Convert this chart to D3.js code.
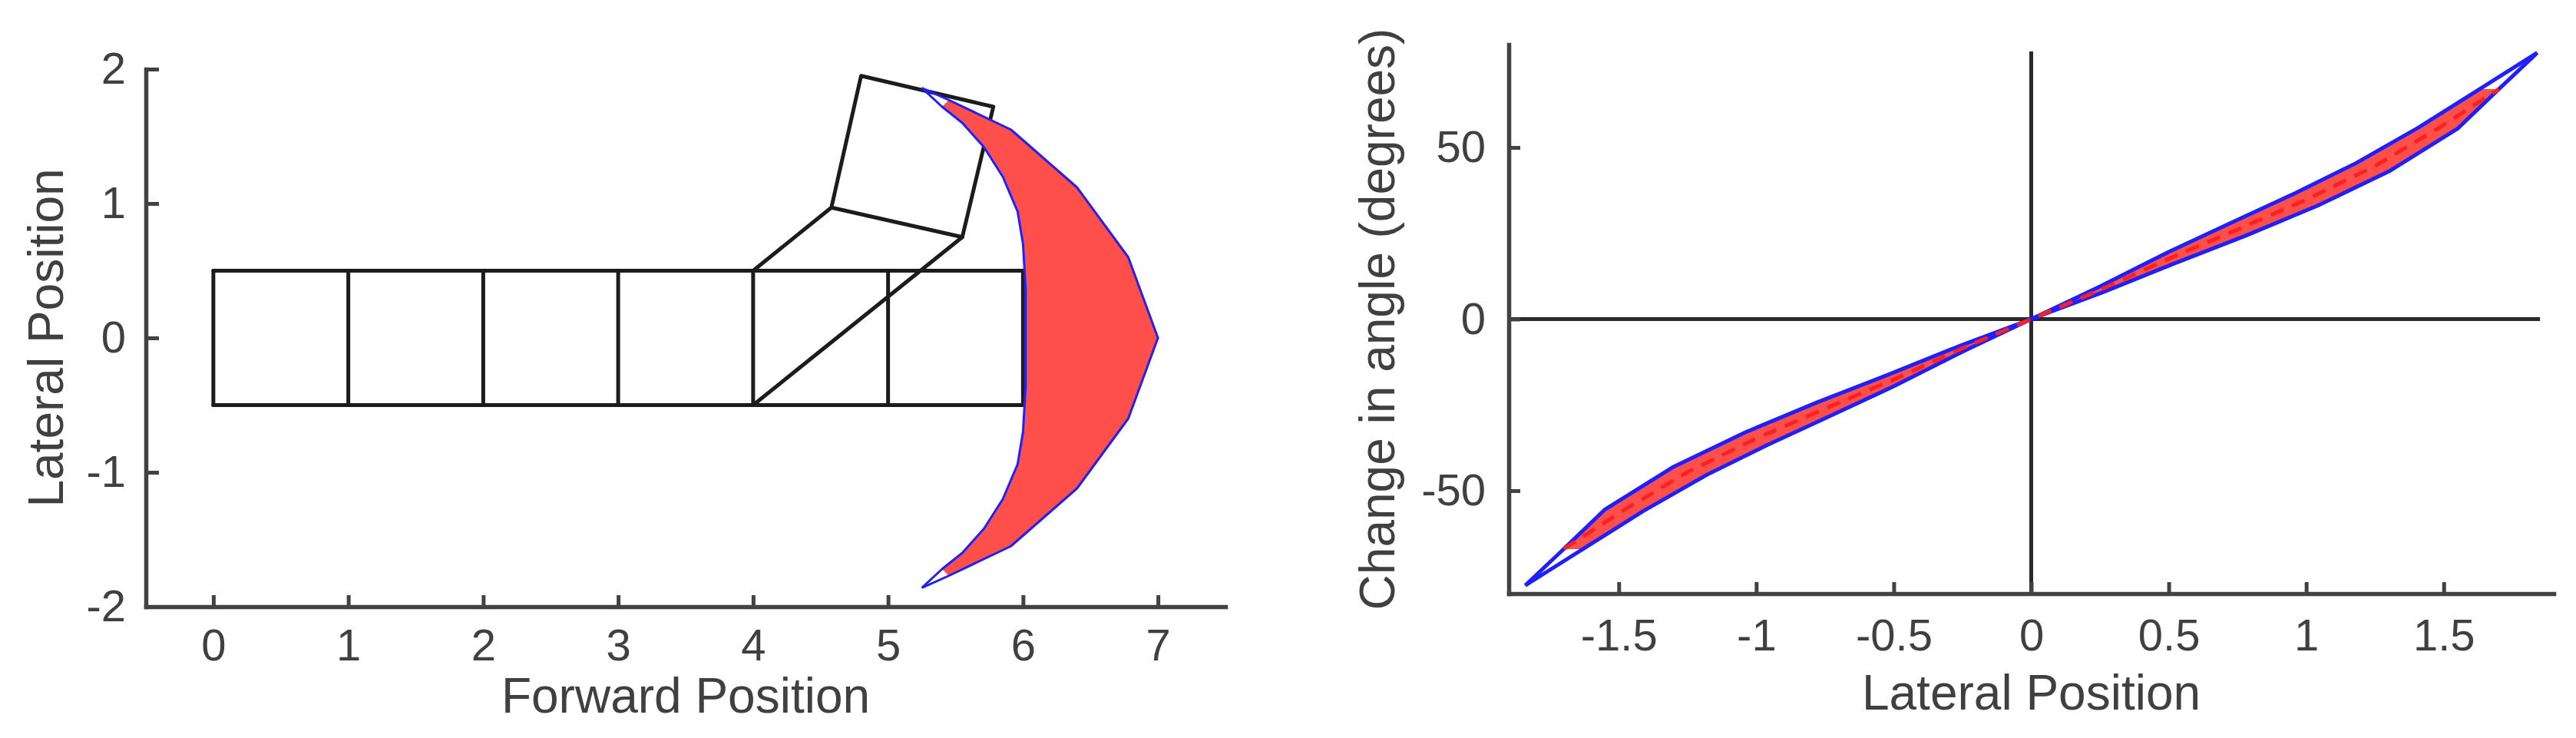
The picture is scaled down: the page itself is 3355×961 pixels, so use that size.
<!DOCTYPE html>
<html>
<head>
<meta charset="utf-8">
<script src="https://cdn.jsdelivr.net/npm/d3@7"></script>
<style>
  html, body { margin: 0; padding: 0; background: #fff; }
</style>
</head>
<body>
<script>
// ---- left panel data (forward / lateral position) ----
const segmentX = [0, 1, 2, 3, 4, 5, 6];
const bodyEdgeY = [-0.5, 0.5];
const armLines = [
  [[4, 0.5], [4.58, 0.97], [4.80, 1.95], [5.78, 1.72], [5.55, 0.75], [4.58, 0.97]],
  [[5.55, 0.75], [4, -0.5]]
];
const sweepOuter = [[5.25, 1.86], [5.45, 1.77], [5.91, 1.55], [6.40, 1.12], [6.78, 0.60], [7.0, 0],
  [6.78, -0.60], [6.40, -1.12], [5.91, -1.55], [5.45, -1.77], [5.25, -1.86]];
const sweepInner = [[5.25, 1.86], [5.40, 1.72], [5.55, 1.60], [5.71, 1.42], [5.85, 1.20], [5.96, 0.94],
  [6.0, 0.70], [6.02, 0.35], [6.02, 0], [6.02, -0.35], [6.0, -0.70], [5.96, -0.94], [5.85, -1.20],
  [5.71, -1.42], [5.55, -1.60], [5.40, -1.72], [5.25, -1.86]];
const forwardTicks = [0, 1, 2, 3, 4, 5, 6, 7];
const lateralTicks = [-2, -1, 0, 1, 2];

// ---- right panel data (change in angle vs lateral position) ----
const angleUpper = [[-1.84, -77.6], [-1.70, -67.0], [-1.552, -55.6], [-1.30, -43.0], [-1.04, -33.0],
  [-0.78, -24.3], [-0.52, -16.2], [-0.26, -7.8], [0, 0], [0.25, 9.5], [0.5, 19.6], [0.75, 28.9],
  [0.96, 36.7], [1.18, 45.4], [1.408, 55.8], [1.63, 67.0], [1.84, 77.6]];
const angleLower = [[-1.84, -77.6], [-1.63, -67.0], [-1.408, -55.8], [-1.18, -45.4], [-0.96, -36.7],
  [-0.75, -28.9], [-0.5, -19.6], [-0.25, -9.5], [0, 0], [0.26, 7.8], [0.52, 16.2], [0.78, 24.3],
  [1.04, 33.0], [1.30, 43.0], [1.552, 55.6], [1.70, 67.0], [1.84, 77.6]];
const angleMean = [[-1.70, -67.0], [-1.48, -55.6], [-1.25, -44.6], [-1.0, -34.8], [-0.75, -26.1],
  [-0.5, -17.6], [-0.25, -8.5], [0, 0], [0.25, 8.5], [0.5, 17.6], [0.75, 26.1], [1.0, 34.8],
  [1.25, 44.6], [1.48, 55.6], [1.70, 67.0]];
const zeroLineX = [-1.9, 1.85];
const zeroLineY = [-80, 78];
const lateralTicksRight = [-1.5, -1, -0.5, 0, 0.5, 1, 1.5];
const angleTicks = [-50, 0, 50];

const W = 3355, H = 961;
const axisColor = "#424242", textColor = "#404040", inkColor = "#1c1c1c";
const fontFam = '"Liberation Sans", Arial, Helvetica, sans-serif';
const fillRed = "#ff4f4a", edgeBlue = "#1f1fff";

const svg = d3.select("body").append("svg")
  .attr("width", W)
  .attr("height", H)
  .style("background", "#fff");

function styleAxis(g) {
  g.attr("font-family", fontFam).attr("font-size", 58).attr("color", axisColor);
  g.select(".domain").attr("stroke-width", 5.5).attr("stroke-linecap", "square");
  g.selectAll(".tick line").attr("stroke-width", 5);
  g.selectAll(".tick text").attr("fill", textColor);
}

function axisTitle(text, x, y, rotate) {
  svg.append("text")
    .attr("transform", `translate(${x},${y})` + (rotate ? " rotate(-90)" : ""))
    .attr("text-anchor", "middle")
    .attr("font-family", fontFam)
    .attr("font-size", 64)
    .attr("fill", textColor)
    .text(text);
}

// ================= left panel =================
const x1 = d3.scaleLinear().domain([-0.5, 7.5]).range([190, 1596]);
const y1 = d3.scaleLinear().domain([-2, 2]).range([790, 90]);
const line1 = d3.line().x(d => x1(d[0])).y(d => y1(d[1]));

const left = svg.append("g");

// body: horizontal edges + segment dividers
left.selectAll("line.edge")
  .data(bodyEdgeY)
  .enter().append("line")
  .attr("class", "edge")
  .attr("x1", x1(d3.min(segmentX))).attr("x2", x1(d3.max(segmentX)))
  .attr("y1", d => y1(d)).attr("y2", d => y1(d))
  .attr("stroke", inkColor).attr("stroke-width", 5)
  .attr("stroke-linecap", "round");

left.selectAll("line.seg")
  .data(segmentX)
  .enter().append("line")
  .attr("class", "seg")
  .attr("x1", d => x1(d)).attr("x2", d => x1(d))
  .attr("y1", y1(bodyEdgeY[0])).attr("y2", y1(bodyEdgeY[1]))
  .attr("stroke", inkColor).attr("stroke-width", 5)
  .attr("stroke-linecap", "round");

left.selectAll("path.arm")
  .data(armLines)
  .enter().append("path")
  .attr("class", "arm")
  .attr("d", line1)
  .attr("fill", "none")
  .attr("stroke", inkColor).attr("stroke-width", 5)
  .attr("stroke-linejoin", "round")
  .attr("stroke-linecap", "round");

// swept region: fill leaves out the tip points, edges go all the way
const sweepFill = sweepOuter.slice(1, -1).concat(sweepInner.slice(1, -1).reverse());
left.append("path")
  .attr("d", line1(sweepFill) + "Z")
  .attr("fill", fillRed)
  .attr("stroke", "none");

left.selectAll("path.sweep")
  .data([sweepOuter, sweepInner])
  .enter().append("path")
  .attr("class", "sweep")
  .attr("d", line1)
  .attr("fill", "none")
  .attr("stroke", edgeBlue).attr("stroke-width", 3)
  .attr("stroke-linejoin", "round");

svg.append("g")
  .attr("transform", `translate(0,${y1(-2)})`)
  .call(d3.axisBottom(x1).tickValues(forwardTicks).tickSizeInner(-15).tickSizeOuter(0)
    .tickPadding(29).tickFormat(d => String(d)))
  .call(styleAxis);

svg.append("g")
  .attr("transform", `translate(${x1(-0.5)},0)`)
  .call(d3.axisLeft(y1).tickValues(lateralTicks).tickSizeInner(-17).tickSizeOuter(0)
    .tickPadding(26).tickFormat(d => String(d)))
  .call(styleAxis);

axisTitle("Forward Position", (x1.range()[0] + x1.range()[1]) / 2, 928, false);
axisTitle("Lateral Position", 82, (y1.range()[0] + y1.range()[1]) / 2, true);

// ================= right panel =================
const x2 = d3.scaleLinear().domain([-1.9, 1.9]).range([1965, 3326]);
const y2 = d3.scaleLinear().domain([-80, 80]).range([773, 58]);
const line2 = d3.line().x(d => x2(d[0])).y(d => y2(d[1]));

const right = svg.append("g");

right.append("line")
  .attr("x1", x2(zeroLineX[0])).attr("x2", x2(zeroLineX[1]))
  .attr("y1", y2(0)).attr("y2", y2(0))
  .attr("stroke", "#2a2a2a").attr("stroke-width", 5);
right.append("line")
  .attr("x1", x2(0)).attr("x2", x2(0))
  .attr("y1", y2(zeroLineY[0])).attr("y2", y2(zeroLineY[1]))
  .attr("stroke", "#2a2a2a").attr("stroke-width", 5);

const bandFill = angleUpper.slice(1, -1).concat(angleLower.slice(1, -1).reverse());
right.append("path")
  .attr("d", line2(bandFill) + "Z")
  .attr("fill", fillRed)
  .attr("stroke", "none");

right.selectAll("path.band")
  .data([angleUpper, angleLower])
  .enter().append("path")
  .attr("class", "band")
  .attr("d", line2)
  .attr("fill", "none")
  .attr("stroke", edgeBlue).attr("stroke-width", 5)
  .attr("stroke-linejoin", "round");

right.append("path")
  .attr("d", line2(angleMean))
  .attr("fill", "none")
  .attr("stroke", "#ff2020").attr("stroke-width", 5)
  .attr("stroke-dasharray", "18 12");

svg.append("g")
  .attr("transform", `translate(0,${y2(-80)})`)
  .call(d3.axisBottom(x2).tickValues(lateralTicksRight).tickSizeInner(-15).tickSizeOuter(0)
    .tickPadding(33).tickFormat(d => String(d)))
  .call(styleAxis);

svg.append("g")
  .attr("transform", `translate(${x2(-1.9)},0)`)
  .call(d3.axisLeft(y2).tickValues(angleTicks).tickSizeInner(-15).tickSizeOuter(0)
    .tickPadding(30).tickFormat(d => String(d)))
  .call(styleAxis);

axisTitle("Lateral Position", (x2.range()[0] + x2.range()[1]) / 2, 924, false);
axisTitle("Change in angle (degrees)", 1816, (y2.range()[0] + y2.range()[1]) / 2, true);
</script>
</body>
</html>
